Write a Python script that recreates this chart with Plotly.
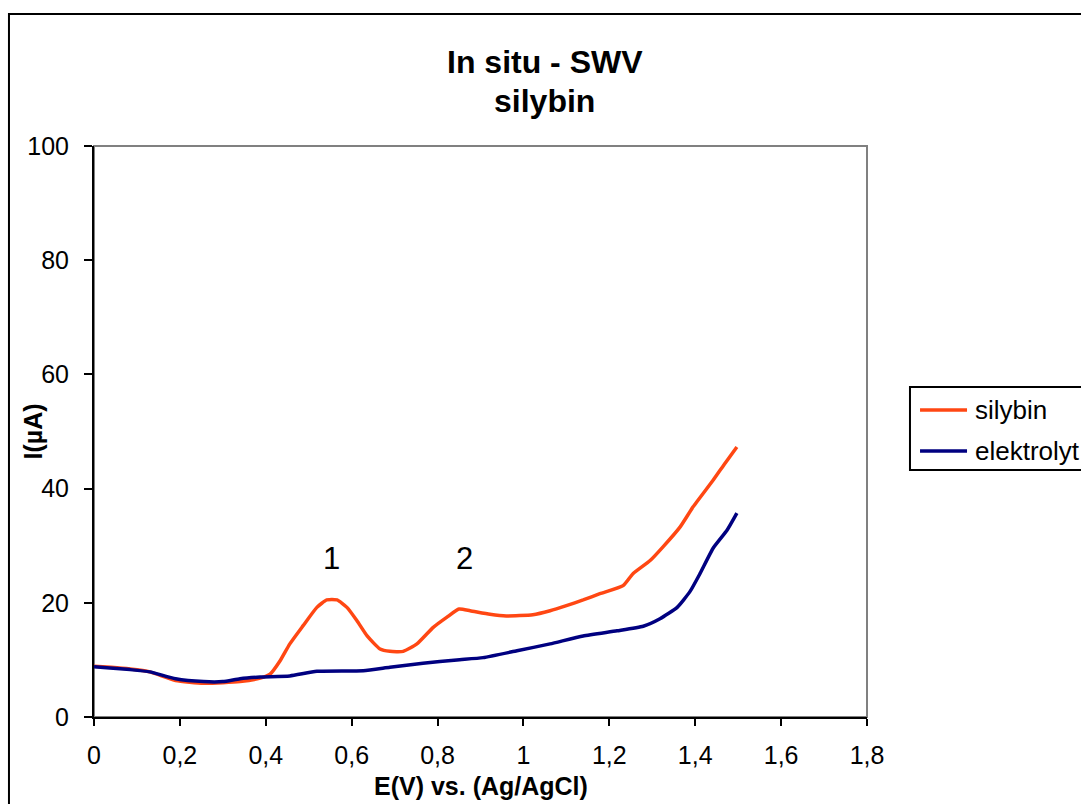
import plotly.graph_objects as go

# Square-wave voltammetry, in situ: silybin vs. blank electrolyte
e_silybin = [0, 0.04, 0.084, 0.13, 0.19, 0.255, 0.30, 0.34, 0.387, 0.41, 0.433, 0.456,
             0.487, 0.519, 0.542, 0.566, 0.589, 0.612, 0.636, 0.666, 0.689, 0.72, 0.752,
             0.79, 0.822, 0.85, 0.876, 0.922, 0.96, 1.022, 1.062, 1.10, 1.139, 1.178,
             1.232, 1.255, 1.295, 1.325, 1.365, 1.395, 1.442, 1.47, 1.497]
i_silybin = [8.9, 8.7, 8.4, 7.9, 6.4, 5.9, 6.0, 6.2, 6.8, 7.5, 9.8, 12.8,
             16.0, 19.2, 20.5, 20.5, 19.2, 16.9, 14.2, 11.9, 11.5, 11.5, 12.8,
             15.7, 17.5, 18.9, 18.6, 18.0, 17.7, 17.9, 18.6, 19.5, 20.5, 21.6,
             23.0, 25.1, 27.4, 29.8, 33.3, 36.8, 41.5, 44.5, 47.3]

e_elektrolyt = [0, 0.037, 0.084, 0.13, 0.19, 0.255, 0.30, 0.34, 0.387, 0.456, 0.519,
                0.627, 0.689, 0.766, 0.845, 0.906, 0.985, 1.062, 1.139, 1.218, 1.279,
                1.318, 1.358, 1.388, 1.411, 1.442, 1.474, 1.497]
i_elektrolyt = [8.8, 8.6, 8.3, 7.9, 6.7, 6.2, 6.2, 6.7, 7.0, 7.2, 8.0,
                8.1, 8.7, 9.4, 10.0, 10.4, 11.6, 12.8, 14.2, 15.1, 15.9,
                17.2, 19.2, 22.0, 25.1, 29.6, 32.7, 35.7]

series_names = ["silybin", "elektrolyt"]
series_colors = ["#FF4713", "#000080"]

peak_labels = ["1", "2"]
peak_e = [0.552, 0.862]
peak_i = [27.8, 27.8]

x_ticks = [0, 0.2, 0.4, 0.6, 0.8, 1, 1.2, 1.4, 1.6, 1.8]
y_ticks = [0, 20, 40, 60, 80, 100]

FONT = "Liberation Sans, Arial, sans-serif"

fig = go.Figure()
for name, xs, ys, col in [(series_names[0], e_silybin, i_silybin, series_colors[0]),
                          (series_names[1], e_elektrolyt, i_elektrolyt, series_colors[1])]:
    fig.add_trace(go.Scatter(x=xs, y=ys, mode="lines", name=name, showlegend=False,
                             line=dict(color=col, width=3.5, shape="spline", smoothing=0.5)))

annotations = []
for lab, xv, yv in zip(peak_labels, peak_e, peak_i):
    annotations.append(dict(x=xv, y=yv, xref="x", yref="y", text=lab, showarrow=False,
                            font=dict(family=FONT, size=31, color="black"),
                            xanchor="center", yanchor="middle"))

# Chart titles
annotations.append(dict(x=0.583, y=1.147, xref="paper", yref="paper", text="In situ - SWV",
                        showarrow=False, xanchor="center", yanchor="middle",
                        font=dict(family=FONT, size=32, color="black", weight="bold")))
annotations.append(dict(x=0.583, y=1.079, xref="paper", yref="paper", text="silybin",
                        showarrow=False, xanchor="center", yanchor="middle",
                        font=dict(family=FONT, size=32, color="black", weight="bold")))

# Axis titles
annotations.append(dict(x=0.5, y=-0.121, xref="paper", yref="paper",
                        text="E(V) vs. (Ag/AgCl)", showarrow=False,
                        xanchor="center", yanchor="middle",
                        font=dict(family=FONT, size=25, color="black", weight="bold")))
annotations.append(dict(x=-0.0802, y=0.5, xref="paper", yref="paper",
                        text="I(µA)", showarrow=False, textangle=-90,
                        xanchor="center", yanchor="middle",
                        font=dict(family=FONT, size=25, color="black", weight="bold")))

# Legend (box, line samples, labels)
legend_y = [0.5377, 0.4658]
shapes = [
    dict(type="rect", xref="paper", yref="paper", x0=-0.110, x1=1.5, y0=-0.4, y1=1.231,
         line=dict(color="black", width=2), fillcolor="rgba(0,0,0,0)", layer="below"),
    dict(type="rect", xref="paper", yref="paper", x0=0, x1=1, y0=0, y1=1,
         line=dict(color="#808080", width=2), fillcolor="rgba(0,0,0,0)", layer="below"),
    dict(type="rect", xref="paper", yref="paper", x0=1.0556, x1=1.4, y0=0.4326, y1=0.578,
         line=dict(color="black", width=2), fillcolor="white", layer="above"),
]
for yv, col, name in zip(legend_y, series_colors, series_names):
    shapes.append(dict(type="line", xref="paper", yref="paper", x0=1.0686, x1=1.1294,
                       y0=yv, y1=yv, line=dict(color=col, width=3.5)))
    annotations.append(dict(x=1.1371, y=yv, xref="paper", yref="paper", text=name,
                            showarrow=False, xanchor="left", yanchor="middle",
                            font=dict(family=FONT, size=26, color="black")))

fig.update_layout(
    width=1081, height=804,
    margin=dict(l=94, r=214, t=146, b=87),
    paper_bgcolor="white", plot_bgcolor="white",
    separators=", ",
    font=dict(family=FONT, size=24, color="black"),
    shapes=shapes,
    annotations=annotations,
    showlegend=False,
)
fig.update_xaxes(
    range=[0, 1.8], tickvals=x_ticks, showgrid=False, zeroline=False,
    showline=True, linecolor="black", linewidth=2,
    ticks="outside", ticklen=7, tickwidth=2, tickcolor="black",
    ticklabelstandoff=8,
    tickfont=dict(family=FONT, size=25),
)
fig.update_yaxes(
    range=[0, 100], tickvals=y_ticks, showgrid=False, zeroline=False,
    showline=True, linecolor="black", linewidth=2,
    ticks="outside", ticklen=8, tickwidth=2, tickcolor="black",
    ticklabelstandoff=10,
    tickfont=dict(family=FONT, size=25),
)

fig.write_html("out.html")
